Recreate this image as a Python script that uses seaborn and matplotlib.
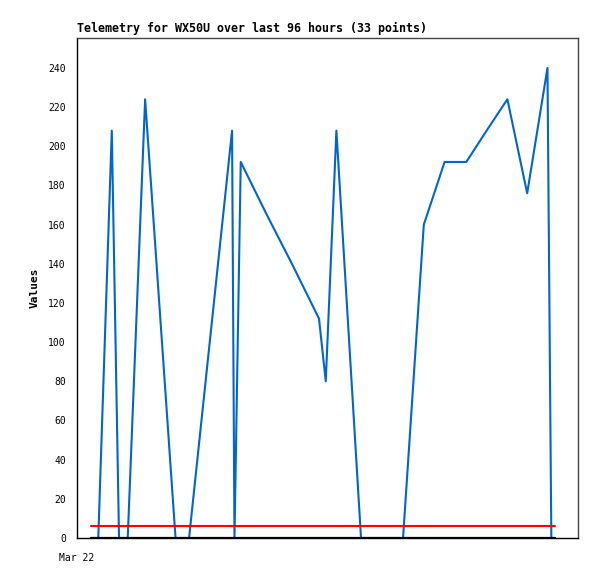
import pandas as pd
import matplotlib
matplotlib.use('Agg')
import matplotlib.pyplot as plt
import seaborn as sns

# hours since first sample, and the telemetry values
hours = [0.0, 0.8, 1.5, 4.3, 5.8, 6.6, 7.6, 11.2, 17.5, 18.8, 20.3,
         29.2, 29.7, 31.0, 36.4, 41.8, 47.2, 48.6, 50.8, 55.9, 58.8,
         61.7, 64.6, 68.9, 73.2, 75.5, 77.7, 81.9, 86.2, 90.3, 94.5,
         95.3, 96.0]
values = [0, 0, 0, 208, 0, 0, 0, 224, 0, 0, 0,
          208, 0, 192, 165, 139, 112, 80, 208, 0, 0,
          0, 0, 160, 192, 192, 192, 208, 224, 176, 240,
          0, 0]
threshold = 6
x_label_text = 'Mar 22'
title = 'Telemetry for WX50U over last 96 hours (33 points)'

df = pd.DataFrame({'hours': hours, 'value': values})

sns.set_style('white')
plt.rcParams['font.family'] = ['DejaVu Sans Mono']
plt.rcParams['text.color'] = 'black'
plt.rcParams['axes.labelcolor'] = 'black'
plt.rcParams['xtick.color'] = 'black'
plt.rcParams['ytick.color'] = 'black'

fig = plt.figure(figsize=(5.97, 5.79), dpi=100)
ax = fig.add_axes([0.129, 0.0708, 0.839, 0.8636])

sns.lineplot(data=df, x='hours', y='value', ax=ax, color='#0066CC', linewidth=1.5, zorder=2)
ax.plot([hours[0], hours[-1]], [threshold, threshold], color='#FF0000', linewidth=1.5, zorder=3)
ax.plot([hours[0], hours[-1]], [0, 0], color='black', linewidth=1.6, zorder=4)

ax.set_xlim(-2.9, 100.8)
ax.set_ylim(0, 255.3)
ax.set_yticks(range(0, 241, 20))
ax.set_xticks([-2.9])
ax.set_xticklabels([x_label_text])
ax.tick_params(axis='both', direction='out', length=5, width=1, labelsize=7, colors='black', pad=3)
ax.tick_params(axis='x', pad=6)

ax.set_xlabel('')
ax.set_ylabel('Values', fontsize=8, fontweight='bold', labelpad=6, color='black')
ax.set_title(title, fontsize=8.4, fontweight='bold', loc='left', pad=4, color='black')

for side in ['left', 'bottom']:
    ax.spines[side].set_color('black')
    ax.spines[side].set_linewidth(1)
for side in ['top', 'right']:
    ax.spines[side].set_color('#444444')
    ax.spines[side].set_linewidth(1)

fig.savefig('out.png', dpi=100)
